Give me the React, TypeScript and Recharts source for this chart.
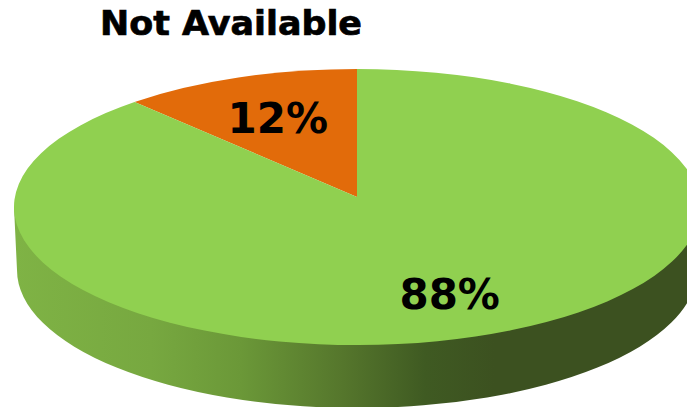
import React from "react";
import { PieChart, Pie, Cell } from "recharts";

const CATEGORIES = ["No", "Yes"];
const VALUES = [12, 88];
const COLORS = ["#E26B0A", "#90D050"];
const TITLE = "Not Available";

const data = CATEGORIES.map((name, i) => ({ name, value: VALUES[i] }));

const WIDTH = 687;
const HEIGHT = 407;
const CX = 357;
const CY = 207;
const RX = 343;
const RY = 138;
// the wheel is seen in perspective, so its hub sits a little above the ellipse centre
const HUB_SHIFT = 10 / RY;
const WALL_DROP = 63;
const WALL_RX = 340;
const LABEL_FRAC = [0.64, 0.73];
const LABEL_NUDGE = [-2, -4];
const FONT = "'DejaVu Sans', Verdana, sans-serif";

const RAD = Math.PI / 180;

function project(angle: number, frac: number, cx: number, cy: number, rx: number) {
  const u = Math.cos(angle * RAD) * frac;
  const v = Math.sin(angle * RAD) * frac;
  const b = HUB_SHIFT;
  const d = 1 + b * v;
  return {
    x: cx + (rx * u * Math.sqrt(1 - b * b)) / d,
    y: cy - (RY * (v + b)) / d,
  };
}

function TiltedSlice(props: any) {
  const { cx, cy, outerRadius: rx, startAngle, endAngle, fill } = props;
  const hub = project(0, 0, cx, cy, rx);
  const a = project(startAngle, 1, cx, cy, rx);
  const b = project(endAngle, 1, cx, cy, rx);
  const a0 = Math.atan2(-(a.y - cy) / RY, (a.x - cx) / rx) / RAD;
  const b0 = Math.atan2(-(b.y - cy) / RY, (b.x - cx) / rx) / RAD;
  const span = (b0 - a0 + 360) % 360;
  const large = span > 180 ? 1 : 0;
  const showsWall = startAngle <= 180 && endAngle >= 360;
  return (
    <g>
      {showsWall && (
        <path
          d={`M${cx - rx},${cy} L${cx - WALL_RX},${cy + WALL_DROP} A${WALL_RX},${RY} 0 0 0 ${cx + WALL_RX},${cy + WALL_DROP} L${cx + rx},${cy} Z`}
          fill="url(#wallShade)"
        />
      )}
      <path
        d={`M${hub.x},${hub.y} L${a.x},${a.y} A${rx},${RY} 0 ${large} 0 ${b.x},${b.y} Z`}
        fill={fill}
      />
    </g>
  );
}

function SliceLabel(props: any) {
  const { cx, cy, outerRadius, midAngle, index, value } = props;
  const p = project(midAngle, LABEL_FRAC[index], cx, cy, outerRadius);
  return (
    <text
      x={p.x + LABEL_NUDGE[index]}
      y={p.y}
      textAnchor="middle"
      dominantBaseline="central"
      fontFamily={FONT}
      fontWeight="bold"
      fontSize={42}
      fill="#000"
    >
      {`${value}%`}
    </text>
  );
}

export default function App() {
  return (
    <div style={{ position: "absolute", left: 0, top: 0, width: WIDTH, height: HEIGHT, overflow: "hidden", background: "#fff" }}>
      <PieChart width={WIDTH} height={HEIGHT} margin={{ top: 0, right: 0, bottom: 0, left: 0 }}>
        <defs>
          <linearGradient id="wallShade" gradientUnits="userSpaceOnUse" x1="14" y1="0" x2="700" y2="0">
            <stop offset="0%" stopColor="#7FB345" />
            <stop offset="20%" stopColor="#77A840" />
            <stop offset="33%" stopColor="#6B9838" />
            <stop offset="48%" stopColor="#55762C" />
            <stop offset="60%" stopColor="#3F5A22" />
            <stop offset="70%" stopColor="#3C5120" />
            <stop offset="100%" stopColor="#3C5120" />
          </linearGradient>
        </defs>
        <text
          x={100}
          y={35}
          textLength={262}
          lengthAdjust="spacingAndGlyphs"
          fontFamily={FONT}
          fontWeight="bold"
          fontSize={33}
          fill="#000"
          stroke="#000"
          strokeWidth={0.7}
        >
          {TITLE}
        </text>
        <Pie
          data={data}
          dataKey="value"
          nameKey="name"
          cx={CX}
          cy={CY}
          outerRadius={RX}
          innerRadius={0}
          startAngle={90}
          endAngle={450}
          stroke="none"
          shape={TiltedSlice}
          label={SliceLabel}
          labelLine={false}
          isAnimationActive={false}
        >
          {data.map((d, i) => (
            <Cell key={d.name} fill={COLORS[i]} />
          ))}
        </Pie>
      </PieChart>
    </div>
  );
}
